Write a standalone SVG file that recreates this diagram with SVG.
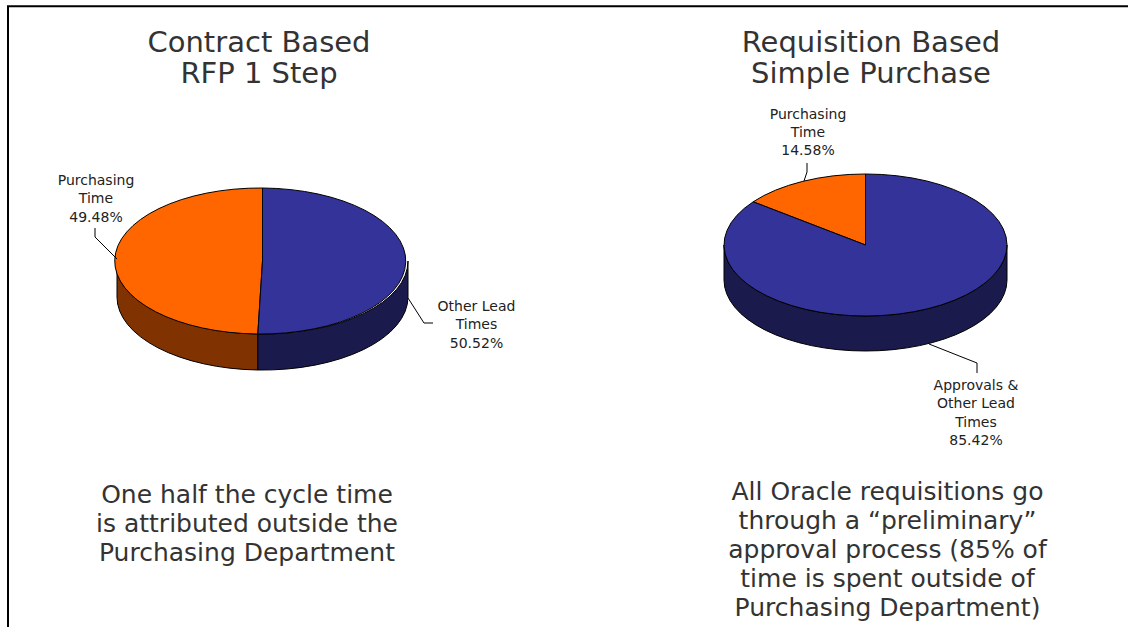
<svg xmlns="http://www.w3.org/2000/svg" width="1128" height="627" viewBox="0 0 1128 627">
<style>
  .title{font-family:"DejaVu Sans",Verdana,sans-serif;font-size:29px;fill:#333;text-anchor:middle}
  .note{font-family:"DejaVu Sans",Verdana,sans-serif;font-size:25px;fill:#333;text-anchor:middle}
  .lbl{font-family:"DejaVu Sans",Verdana,sans-serif;font-size:14px;fill:#222;text-anchor:middle}
  .edge{stroke:#000;stroke-width:1;stroke-linejoin:round}
  .lead{fill:none;stroke:#000;stroke-width:1}
  .or{fill:#FF6600}
  .ors{fill:#803300}
  .bl{fill:#333399}
  .bls{fill:#1A1A4D}
</style>
<rect width="1128" height="627" fill="#fff"/>
<path d="M8,627 V6.3 H1128" fill="none" stroke="#000" stroke-width="2"/>

<g id="left-chart">
  <text class="title" x="259" y="52">Contract Based</text>
  <text class="title" x="259" y="83">RFP 1 Step</text>
  <g id="left-pie">
    <path class="ors edge" d="M117,261 A145.5,73 0 0 0 257.8,334 L257.8,370 A145.5,73 0 0 1 117,297 Z"/>
    <path class="bls edge" d="M257.8,334 A145.5,73 0 0 0 408,261 L408,297 A145.5,73 0 0 1 257.8,370 Z"/>
    <path class="or edge" d="M262.5,261 L262.5,188 A145.5,73 0 0 0 257.8,334 Z"/>
    <path class="bl edge" d="M262.5,261 L257.8,334 A145.5,73 0 1 0 262.5,188 Z"/>
  </g>
  <g id="left-label-purchasing">
    <text class="lbl" x="96" y="185">Purchasing</text>
    <text class="lbl" x="96" y="203">Time</text>
    <text class="lbl" x="96" y="222">49.48%</text>
  </g>
  <g id="left-label-other">
    <text class="lbl" x="476.5" y="311">Other Lead</text>
    <text class="lbl" x="476.5" y="329">Times</text>
    <text class="lbl" x="476.5" y="348">50.52%</text>
  </g>
  <text class="note" x="247" y="503">One half the cycle time</text>
  <text class="note" x="247" y="532.2">is attributed outside the</text>
  <text class="note" x="247" y="561.4">Purchasing Department</text>
</g>

<g id="right-chart">
  <text class="title" x="871" y="52">Requisition Based</text>
  <text class="title" x="871" y="83">Simple Purchase</text>
  <g id="right-pie">
    <path class="bls edge" d="M724,245 A141.5,71 0 0 0 1007,245 L1007,280 A141.5,71 0 0 1 724,280 Z"/>
    <path class="or edge" d="M865.5,245 L865.5,174 A141.5,71 0 0 0 753.2,201.8 Z"/>
    <path class="bl edge" d="M865.5,245 L753.2,201.8 A141.5,71 0 1 0 865.5,174 Z"/>
  </g>
  <g id="right-label-purchasing">
    <text class="lbl" x="808" y="119">Purchasing</text>
    <text class="lbl" x="808" y="137">Time</text>
    <text class="lbl" x="808" y="155">14.58%</text>
  </g>
  <g id="right-label-approvals">
    <text class="lbl" x="976" y="390">Approvals &amp;</text>
    <text class="lbl" x="976" y="408">Other Lead</text>
    <text class="lbl" x="976" y="427">Times</text>
    <text class="lbl" x="976" y="445">85.42%</text>
  </g>
  <text class="note" x="887.5" y="499.5">All Oracle requisitions go</text>
  <text class="note" x="887.5" y="528.7">through a “preliminary”</text>
  <text class="note" x="887.5" y="557.9">approval process (85% of</text>
  <text class="note" x="887.5" y="587.1">time is spent outside of</text>
  <text class="note" x="887.5" y="616.3">Purchasing Department)</text>
</g>

<g id="connectors">
  <polyline class="lead" points="95,228 95,237 117,259"/>
  <polyline class="lead" points="408,298 424,323 433,323"/>
  <polyline class="lead" points="807,163 807,172 804,181"/>
  <polyline class="lead" points="929,344 977,363 977,373"/>
</g>
</svg>
